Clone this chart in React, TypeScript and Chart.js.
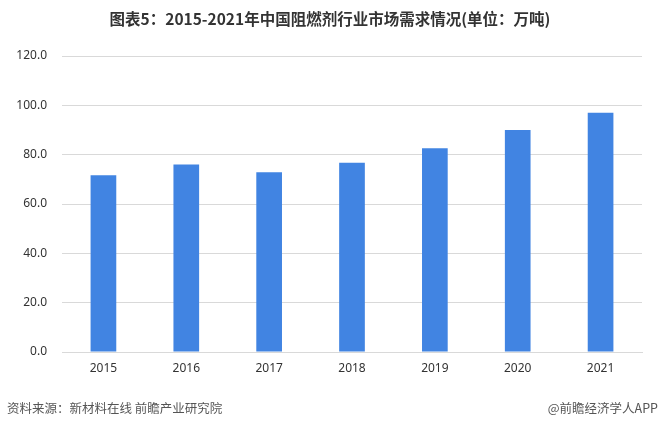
import React, { useEffect, useRef } from "react";
import { Chart, registerables } from "chart.js";

Chart.register(...registerables);

const categories = ["2015", "2016", "2017", "2018", "2019", "2020", "2021"];
const demand = [71.7, 76.0, 72.9, 76.7, 82.6, 90.0, 97.0];
const yTicks = [0, 20, 40, 60, 80, 100, 120];

const titleText = "图表5：2015-2021年中国阻燃剂行业市场需求情况(单位：万吨)";
const sourceText = "资料来源：新材料在线 前瞻产业研究院";
const brandText = "@前瞻经济学人APP";

const CJK = '"Noto Sans CJK SC", "Noto Sans", sans-serif';

export default function App() {
  const ref = useRef<HTMLCanvasElement | null>(null);

  useEffect(() => {
    document.body.style.margin = "0";
    const ctx = ref.current!.getContext("2d")!;
    const chart = new Chart(ctx, {
      type: "bar",
      data: {
        labels: categories,
        datasets: [
          {
            label: "需求量",
            data: demand,
            backgroundColor: "#4184E2",
            borderWidth: 0,
            categoryPercentage: 1,
            barPercentage: 0.31,
          },
        ],
      },
      options: {
        animation: false,
        responsive: false,
        maintainAspectRatio: false,
        layout: { padding: { left: 0, right: 18, top: 56, bottom: 50 } },
        plugins: {
          legend: { display: false },
          tooltip: { enabled: false },
          title: { display: false },
        },
        scales: {
          x: {
            grid: { display: false, drawTicks: false },
            border: { display: true, color: "#d9d9d9", width: 1 },
            ticks: {
              color: "#333",
              font: { family: '"Noto Sans", sans-serif', size: 12 },
              padding: 9,
            },
            afterFit: (s: any) => {
              s.height = 30;
            },
          },
          y: {
            min: 0,
            max: 120,
            afterBuildTicks: (s: any) => {
              s.ticks = yTicks.map((v) => ({ value: v }));
            },
            grid: { color: "#d9d9d9", drawTicks: false, lineWidth: 1 },
            border: { display: false },
            ticks: {
              color: "#333",
              font: { family: '"Noto Sans", sans-serif', size: 12 },
              padding: 15,
              callback: (v: any) => Number(v).toFixed(1),
            },
            afterFit: (s: any) => {
              s.width = 62;
            },
          },
        },
      },
    });
    return () => chart.destroy();
  }, []);

  return (
    <div style={{ position: "fixed", left: 0, top: 0, width: 660, height: 432, background: "#fff", overflow: "hidden" }}>
      <canvas ref={ref} width={660} height={432} style={{ position: "absolute", left: 0, top: 0, width: 660, height: 432 }} />
      <div
        style={{
          position: "absolute",
          left: 0,
          top: 7,
          width: 660,
          textAlign: "center",
          fontFamily: CJK,
          fontWeight: "bold",
          fontSize: 15.5,
          color: "#333",
          lineHeight: "22px",
        }}
      >
        {titleText}
      </div>
      <div
        style={{
          position: "absolute",
          left: 7,
          top: 399,
          fontFamily: CJK,
          fontSize: 12.5,
          color: "#555",
          lineHeight: "18px",
          whiteSpace: "nowrap",
        }}
      >
        {sourceText}
      </div>
      <div
        style={{
          position: "absolute",
          right: 2,
          top: 399,
          fontFamily: CJK,
          fontSize: 12.5,
          color: "#555",
          lineHeight: "18px",
          whiteSpace: "nowrap",
        }}
      >
        {brandText}
      </div>
    </div>
  );
}
